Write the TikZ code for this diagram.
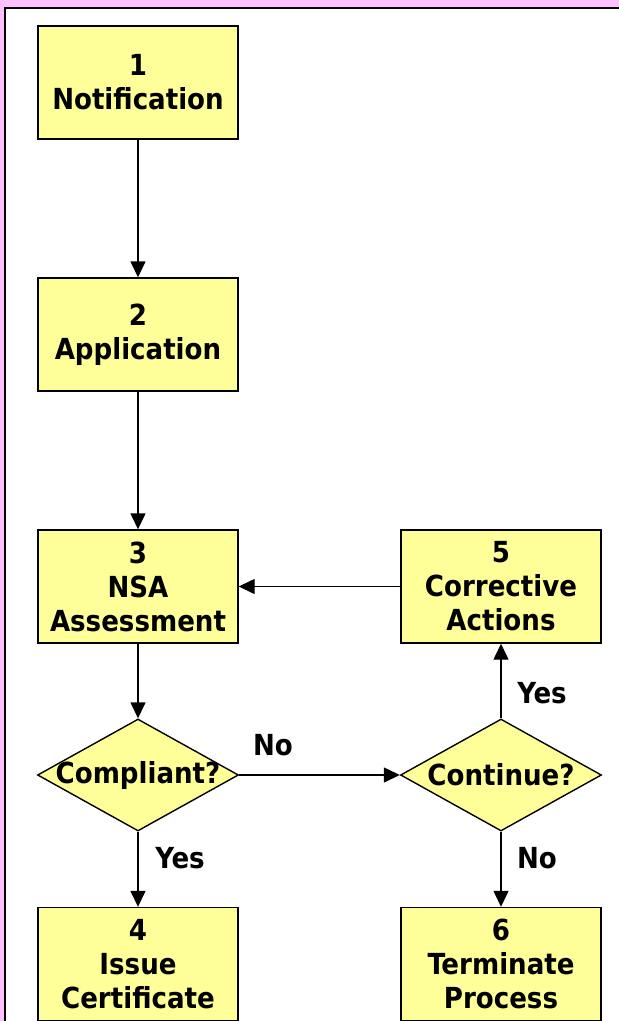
\documentclass[tikz,border=0pt]{standalone}
\usepackage{fontspec}
\setmainfont{DejaVu Sans Condensed}[BoldFont={DejaVu Sans Condensed Bold}]
\usetikzlibrary{shapes.geometric,arrows.meta}
\definecolor{bgpink}{RGB}{255,192,255}
\definecolor{boxyellow}{RGB}{255,255,153}
\begin{document}
\begin{tikzpicture}[x=1pt,y=-1pt,
  every node/.style={font=\bfseries\fontsize{29}{34}\selectfont},
  stepbox/.style={draw=black, line width=1.4pt, fill=boxyellow, minimum width=200pt, minimum height=113pt, inner sep=0pt, align=center},
  decision/.style={diamond, draw=black, line width=1.4pt, fill=boxyellow, minimum width=201pt, minimum height=112pt, inner sep=0pt},
  flow/.style={line width=1.4pt, -{Triangle[length=16pt,width=15pt]}},
  lbl/.style={inner sep=0pt}
]
\useasboundingbox (0,0) rectangle (619,1021);
\fill[bgpink] (0,0) rectangle (619,1021);
\fill[white] (4,7) rectangle (625,1030);
\draw[black, line width=2pt] (4.5,1030) -- (4.5,7.5) -- (625,7.5);

\node[stepbox] (n1) at (138,82.5) {1\\Notification};
\node[stepbox] (n2) at (138,334.5) {2\\Application};
\node[stepbox] (n3) at (138,586.5) {3\\NSA\\Assessment};
\node[stepbox] (n5) at (501,586.5) {5\\Corrective\\Actions};
\node[decision, label={center:Compliant?}] (d1) at (138,775) {};
\node[decision, label={center:Continue?}] (d2) at (501,775) {};
\node[stepbox] (n4) at (138,964) {4\\Issue\\Certificate};
\node[stepbox] (n6) at (501,964) {6\\Terminate\\Process};

\draw[flow] (n1) -- (n2);
\draw[flow] (n2) -- (n3);
\draw[flow] (n3) -- (d1);
\draw[flow] (d1) -- (n4);
\draw[flow] (d1) -- (d2);
\draw[flow] (d2) -- (n5);
\draw[flow] (d2) -- (n6);
\draw[flow] (n5) -- (n3);

\node[lbl] (lno1) at (273,745) {No};
\node[lbl] (lyes1) at (180,858) {Yes};
\node[lbl] (lno2) at (537,858) {No};
\node[lbl] (lyes2) at (542,693) {Yes};
\end{tikzpicture}
\end{document}
